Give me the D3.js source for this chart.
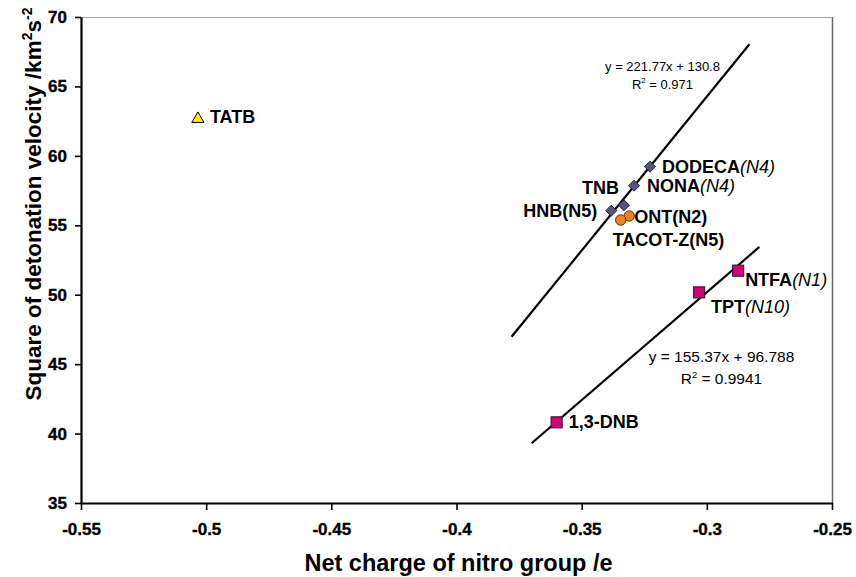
<!DOCTYPE html>
<html>
<head>
<meta charset="utf-8">
<script src="https://cdn.jsdelivr.net/npm/d3@7"></script>
<style>
  html, body { margin: 0; padding: 0; background: #fff; }
  svg { display: block; font-family: "Liberation Sans", Arial, Helvetica, sans-serif; }
</style>
</head>
<body>
<svg id="chart" width="856" height="577"></svg>
<script>
// ---------- data ----------
const xTicks = [-0.55, -0.5, -0.45, -0.4, -0.35, -0.3, -0.25];
const yTicks = [35, 40, 45, 50, 55, 60, 65, 70];

// diamonds (N4 / N5 group)
const diamondNames  = ["DODECA", "NONA", "TNB", "HNB"];
const diamondSuffix = ["(N4)", "(N4)", "", "(N5)"];
const diamondItalic = [true, true, false, false];
const diamondX = [-0.3227, -0.3291, -0.3331, -0.3382];
const diamondY = [59.22, 57.85, 56.44, 56.05];

// circles
const circleNames  = ["ONT", "TACOT-Z"];
const circleSuffix = ["(N2)", "(N5)"];
const circleItalic = [false, false];
const circleX = [-0.3310, -0.3344];
const circleY = [55.67, 55.38];

// squares
const squareNames  = ["NTFA", "TPT", "1,3-DNB"];
const squareSuffix = ["(N1)", "(N10)", ""];
const squareItalic = [true, true, false];
const squareX = [-0.2875, -0.3031, -0.3600];
const squareY = [51.73, 50.17, 40.81];

// triangle
const triangleNames = ["TATB"];
const triangleX = [-0.5033];
const triangleY = [62.73];

// trend lines
const trendSlopes     = [221.77, 155.37];
const trendIntercepts = [130.8, 96.788];
const trendXStart     = [-0.378, -0.370];
const trendXEnd       = [-0.283, -0.279];
const trendEquations  = ["y = 221.77x + 130.8", "y = 155.37x + 96.788"];
const trendR2         = ["0.971", "0.9941"];

// ---------- layout ----------
const svg = d3.select("#chart");
const L = 81, R = 832, T = 17, B = 503;
const x = d3.scaleLinear().domain([-0.55, -0.25]).range([L, R]);
const y = d3.scaleLinear().domain([35, 70]).range([B, T]);

// plot area border (top / right)
svg.append("line").attr("x1", L).attr("x2", R).attr("y1", T + 0.5).attr("y2", T + 0.5)
  .attr("stroke", "#a0a0a0").attr("stroke-width", 1.2);
svg.append("line").attr("x1", R + 0.5).attr("x2", R + 0.5).attr("y1", T).attr("y2", B)
  .attr("stroke", "#666").attr("stroke-width", 1.5);

// axes
const fmtX = d => (+d.toFixed(2)).toString();
const xAxis = svg.append("g").attr("transform", `translate(0,${B})`)
  .call(d3.axisBottom(x).tickValues(xTicks).tickFormat(fmtX).tickSizeInner(7).tickSizeOuter(0).tickPadding(13));
const yAxis = svg.append("g").attr("transform", `translate(${L},0)`)
  .call(d3.axisLeft(y).tickValues(yTicks).tickFormat(d3.format("d")).tickSizeInner(6).tickSizeOuter(0).tickPadding(8));
[xAxis, yAxis].forEach(a => {
  a.attr("font-size", null).attr("font-family", null);
  a.select(".domain").attr("stroke", "#000").attr("stroke-width", 2.2);
  a.selectAll(".tick line").attr("stroke", "#000").attr("stroke-width", 1.6);
  a.selectAll(".tick text")
    .style("font-family", "'Liberation Sans', Arial, sans-serif")
    .style("font-weight", "700")
    .style("font-size", "17px")
    .attr("fill", "#000")
    .attr("stroke", "#000").attr("stroke-width", 0.35);
});

// axis titles
svg.append("text").attr("x", (L + R) / 2 + 2).attr("y", 571).attr("text-anchor", "middle")
  .attr("font-size", 23.5).attr("font-weight", "bold").text("Net charge of nitro group /e");

const yt = svg.append("text").attr("transform", "translate(41,204) rotate(-90)")
  .attr("text-anchor", "middle").attr("font-size", 22.5).attr("font-weight", "bold");
yt.append("tspan").text("Square of detonation velocity /km");
yt.append("tspan").attr("dy", -9).attr("font-size", 14).text("2");
yt.append("tspan").attr("dy", 9).text("s");
yt.append("tspan").attr("dy", -9).attr("font-size", 14).text("-2");

// trend lines
const trendData = trendSlopes.map((s, i) => ({
  x0: trendXStart[i], x1: trendXEnd[i], s, b: trendIntercepts[i]
}));
svg.selectAll(".trend").data(trendData).join("line").attr("class", "trend")
  .attr("x1", d => x(d.x0)).attr("y1", d => y(d.s * d.x0 + d.b))
  .attr("x2", d => x(d.x1)).attr("y2", d => y(d.s * d.x1 + d.b))
  .attr("stroke", "#000").attr("stroke-width", 2.2);

// equations
const eqPos = [
  { cx: 662.5, y1: 71, y2: 89, fs: 13 },
  { cx: 721.5, y1: 362, y2: 384, fs: 15.5 }
];
trendEquations.forEach((eq, i) => {
  const p = eqPos[i];
  svg.append("text").attr("x", p.cx).attr("y", p.y1).attr("text-anchor", "middle")
    .attr("font-size", p.fs).text(eq);
  const t = svg.append("text").attr("x", p.cx).attr("y", p.y2).attr("text-anchor", "middle")
    .attr("font-size", p.fs);
  t.append("tspan").text("R");
  t.append("tspan").attr("dy", -6).attr("font-size", p.fs * 0.6).text("2");
  t.append("tspan").attr("dy", 6).text(" = " + trendR2[i]);
});

// markers
svg.selectAll(".tri").data(triangleX.map((v, i) => ({ x: v, y: triangleY[i] }))).join("path")
  .attr("class", "tri")
  .attr("d", d3.symbol().type(d3.symbolTriangle).size(64))
  .attr("transform", d => `translate(${x(d.x)},${y(d.y) + 1})`)
  .attr("fill", "#ffee00").attr("stroke", "#000").attr("stroke-width", 1);

svg.selectAll(".dia").data(diamondX.map((v, i) => ({ x: v, y: diamondY[i] }))).join("path")
  .attr("class", "dia")
  .attr("d", "M0,-5.5 L5.5,0 L0,5.5 L-5.5,0 Z")
  .attr("transform", d => `translate(${x(d.x)},${y(d.y)})`)
  .attr("fill", "#55557a").attr("stroke", "#22223a").attr("stroke-width", 1);

svg.selectAll(".cir").data(circleX.map((v, i) => ({ x: v, y: circleY[i] }))).join("circle")
  .attr("class", "cir")
  .attr("cx", d => x(d.x)).attr("cy", d => y(d.y)).attr("r", 5.2)
  .attr("fill", "#f0821e").attr("stroke", "#6a3000").attr("stroke-width", 1);

svg.selectAll(".sq").data(squareX.map((v, i) => ({ x: v, y: squareY[i] }))).join("rect")
  .attr("class", "sq")
  .attr("x", d => x(d.x) - 5.5).attr("y", d => y(d.y) - 5.5).attr("width", 11).attr("height", 11)
  .attr("fill", "#d4007a").attr("stroke", "#3a2030").attr("stroke-width", 1.2);

// labels
function addLabel(px, py, name, suffix, italic, dx, dy, anchor) {
  const t = svg.append("text").attr("x", px + dx).attr("y", py + dy)
    .attr("text-anchor", anchor || "start").attr("font-size", 18);
  t.append("tspan").attr("font-weight", "bold").text(name);
  if (suffix) {
    t.append("tspan").attr("font-weight", italic ? "normal" : "bold")
      .attr("font-style", italic ? "italic" : "normal").text(suffix);
  }
}
const diaOff = [[12, 6, "start"], [13, 6, "start"], [-5, -11, "end"], [-14, 6, "end"]];
diamondNames.forEach((n, i) => addLabel(x(diamondX[i]), y(diamondY[i]), n, diamondSuffix[i], diamondItalic[i], ...diaOff[i]));
const cirOff = [[5, 7, "start"], [-8, 26, "start"]];
circleNames.forEach((n, i) => addLabel(x(circleX[i]), y(circleY[i]), n, circleSuffix[i], circleItalic[i], ...cirOff[i]));
const sqOff = [[7, 15, "start"], [12, 21, "start"], [12, 6, "start"]];
squareNames.forEach((n, i) => addLabel(x(squareX[i]), y(squareY[i]), n, squareSuffix[i], squareItalic[i], ...sqOff[i]));
triangleNames.forEach((n, i) => addLabel(x(triangleX[i]), y(triangleY[i]), n, "", false, 12, 5, "start"));
</script>
</body>
</html>
